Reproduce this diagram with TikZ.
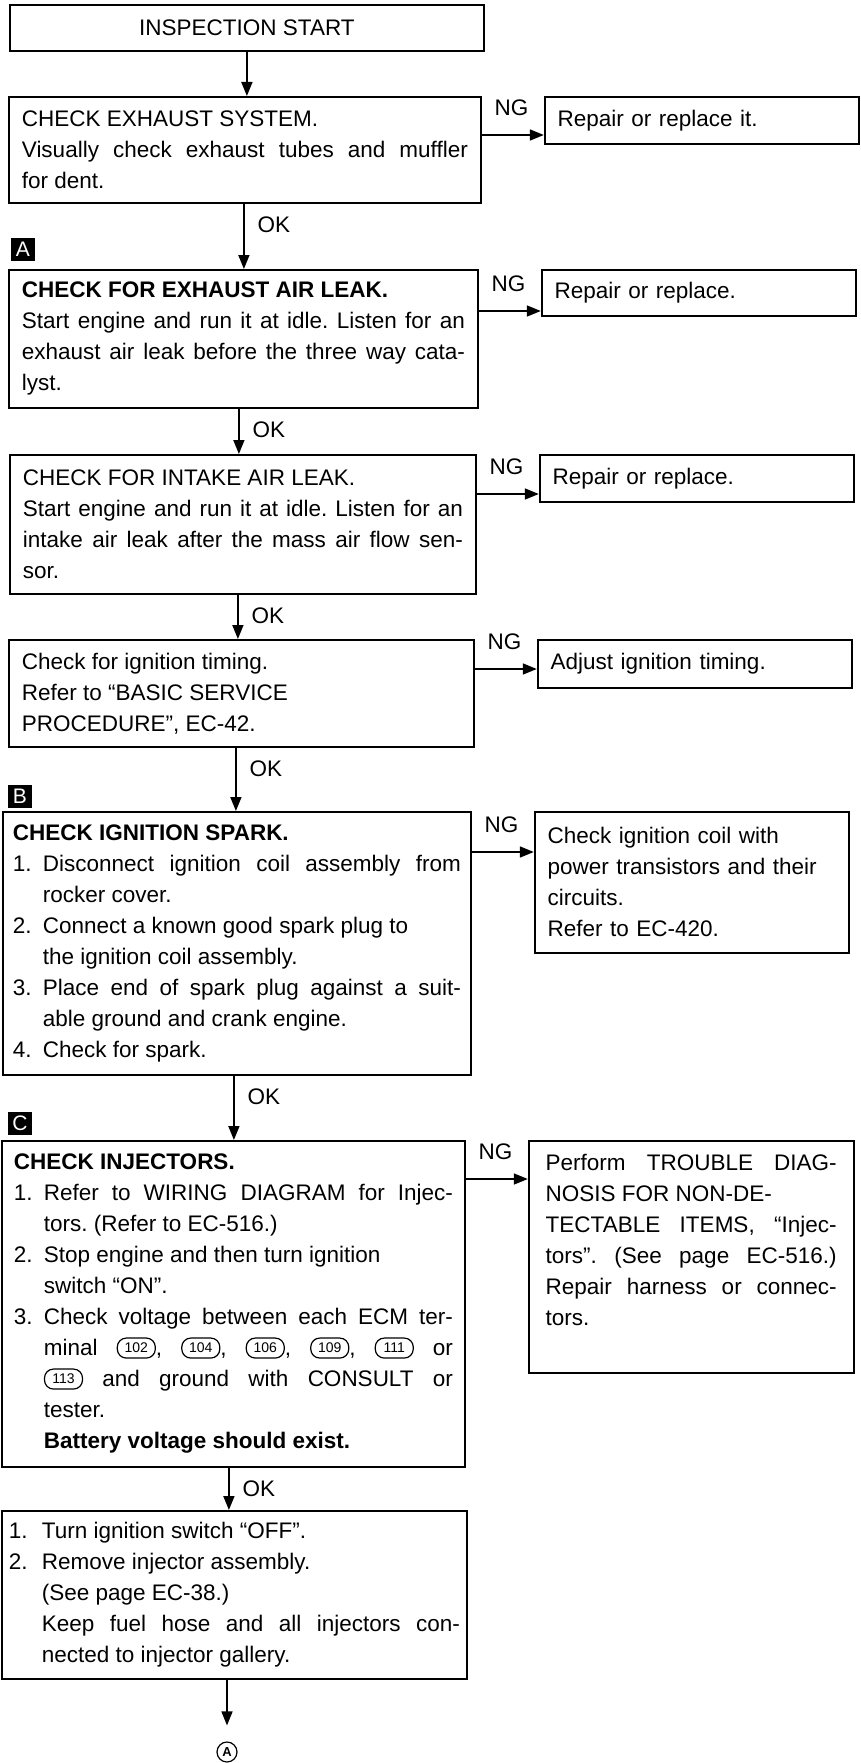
\documentclass[tikz,border=0pt]{standalone}
\usepackage{fontspec}
\setmainfont{Liberation Sans}
\usetikzlibrary{positioning, arrows.meta}

\newcommand{\bodyfont}{\fontsize{22.5pt}{31pt}\selectfont\frenchspacing}
\newcommand{\stepno}[2][30pt]{\hangindent=#1\hangafter=1\makebox[#1][l]{#2}\ignorespaces}
\newcommand{\ecmpin}[1]{\tikz[baseline={([yshift=-3pt]pin.base)}]\node[pinbox] (pin) {#1};}

\begin{document}
\begin{tikzpicture}[
    x=1pt, y=-1pt,
    node distance=62pt,
    >={Triangle[length=14pt, width=11pt]},
    stepbox/.style={
        draw,
        line width=1.8pt,
        anchor=north west,
        align=justify,
        inner xsep=13pt,
        inner ysep=2pt,
        font=\bodyfont
    },
    fixbox/.style={
        stepbox,
        align=left,
        text width=288pt
    },
    flow/.style={->, line width=1.6pt},
    okl/.style={anchor=north west, inner sep=0pt, xshift=13pt, yshift=-12pt, font=\bodyfont},
    ngl/.style={anchor=south west, inner sep=0pt, xshift=12pt, yshift=18pt, font=\bodyfont},
    tagbox/.style={fill=black, text=white, minimum width=24pt, minimum height=23pt,
        inner sep=0pt, font=\fontsize{21pt}{21pt}\selectfont},
    pinbox/.style={draw, line width=1.2pt, rounded corners=9pt, minimum width=38pt,
        minimum height=20pt, inner sep=0pt, font=\fontsize{14pt}{14pt}\selectfont}
]
\useasboundingbox (0,0) rectangle (861,1763);
\fill[white] (0,0) rectangle (861,1763);

%% ── Main column ──────────────────────────────────────────────────────────────
\node[draw, line width=1.8pt, anchor=north west, minimum width=474pt,
      minimum height=46pt, font=\bodyfont] (start) at (9,4) {INSPECTION START};

\node[stepbox, text width=446pt, minimum height=106pt] (b1) at (8,96)
    {CHECK EXHAUST SYSTEM.\par
     Visually check exhaust tubes and muffler\linebreak for dent.};

\node[stepbox, text width=443pt, minimum height=138pt] (b2) at (8,269)
    {\textbf{CHECK FOR EXHAUST AIR LEAK.}\par
     Start engine and run it at idle. Listen for an\linebreak
     exhaust air leak before the three way cata-\linebreak lyst.};

\node[stepbox, text width=440pt, minimum height=139pt] (b3) at (9,454)
    {CHECK FOR INTAKE AIR LEAK.\par
     Start engine and run it at idle. Listen for an\linebreak
     intake air leak after the mass air flow sen-\linebreak sor.};

\node[stepbox, text width=439pt, minimum height=107pt] (b4) at (8,639)
    {Check for ignition timing.\par
     Refer to “BASIC SERVICE\newline PROCEDURE”, EC-42.};

\node[stepbox, inner xsep=10pt, text width=448pt, minimum height=263pt] (b5) at (2,811)
    {\textbf{CHECK IGNITION SPARK.}\par
     \stepno{1.}Disconnect ignition coil assembly from\linebreak rocker cover.\par
     \stepno{2.}Connect a known good spark plug to\newline the ignition coil assembly.\par
     \stepno{3.}Place end of spark plug against a suit-\linebreak able ground and crank engine.\par
     \stepno{4.}Check for spark.\par};

\node[stepbox, inner xsep=12pt, text width=439pt, minimum height=326pt] (b6) at (1,1140)
    {\textbf{CHECK INJECTORS.}\par
     \stepno{1.}Refer to WIRING DIAGRAM for Injec-\linebreak tors. (Refer to EC-516.)\par
     \stepno{2.}Stop engine and then turn ignition\newline switch “ON”.\par
     \stepno{3.}Check voltage between each ECM ter-\linebreak
     minal \ecmpin{102}, \ecmpin{104}, \ecmpin{106}, \ecmpin{109}, \ecmpin{111} or\linebreak
     \ecmpin{113} and ground with CONSULT or\linebreak
     tester.\newline
     \textbf{Battery voltage should exist.}\par};

\node[stepbox, inner xsep=7pt, text width=451pt, minimum height=168pt] (b7) at (1,1510)
    {\stepno[33pt]{1.}Turn ignition switch “OFF”.\par
     \stepno[33pt]{2.}Remove injector assembly.\newline
     (See page EC-38.)\newline
     Keep fuel hose and all injectors con-\linebreak nected to injector gallery.\par};

\node[circle, draw, line width=1.2pt, minimum size=20pt, inner sep=0pt,
      font=\fontsize{13pt}{13pt}\selectfont\bfseries] (endA) at (227,1752) {A};

%% ── Section tags ─────────────────────────────────────────────────────────────
\node[tagbox] (tagA) at (23,249) {A};
\node[tagbox] (tagB) at (20,796) {B};
\node[tagbox] (tagC) at (20,1123) {C};

%% ── NG results ───────────────────────────────────────────────────────────────
\node[fixbox, right=of b1.north east, anchor=north west, minimum height=47pt] (r1)
    {Repair or replace it.};
\node[fixbox, right=of b2.north east, anchor=north west, minimum height=46pt] (r2)
    {Repair or replace.};
\node[fixbox, right=of b3.north east, anchor=north west, minimum height=47pt] (r3)
    {Repair or replace.};
\node[fixbox, right=of b4.north east, anchor=north west, minimum height=48pt] (r4)
    {Adjust ignition timing.};
\node[fixbox, right=of b5.north east, anchor=north west, minimum height=141pt] (r5)
    {Check ignition coil with\\ power transistors and their\\ circuits.\\ Refer to EC-420.};
\node[fixbox, align=justify, text width=291pt, inner xsep=13pt, minimum width=325pt,
      right=of b6.north east, anchor=north west, minimum height=232pt] (r6)
    {Perform TROUBLE DIAG-\linebreak NOSIS FOR NON-DE-\newline
     TECTABLE ITEMS, “Injec-\linebreak tors”. (See page EC-516.)\linebreak
     Repair harness or connec-\linebreak tors.\rule[-34pt]{0pt}{34pt}};

%% ── OK connectors ────────────────────────────────────────────────────────────
\coordinate (ok1) at ([xshift=-1pt]b1.south);
\coordinate (ok2) at ([xshift=-4.5pt]b2.south);
\coordinate (ok3) at ([xshift=-5pt]b3.south);
\coordinate (ok4) at ([xshift=-5.5pt]b4.south);
\coordinate (ok5) at ([xshift=-3pt]b5.south);
\coordinate (ok6) at ([xshift=-4.5pt]b6.south);

\draw[flow] (start.south) -- (start.south |- b1.north);
\draw[flow] (ok1) node[okl] {OK} -- (ok1 |- b2.north);
\draw[flow] (ok2) node[okl] {OK} -- (ok2 |- b3.north);
\draw[flow] (ok3) node[okl] {OK} -- (ok3 |- b4.north);
\draw[flow] (ok4) node[okl] {OK} -- (ok4 |- b5.north);
\draw[flow] (ok5) node[okl] {OK} -- (ok5 |- b6.north);
\draw[flow] (ok6) node[okl] {OK} -- (ok6 |- b7.north);
\draw[flow, shorten >=16pt] (b7.south -| endA) -- (endA);

%% ── NG connectors ────────────────────────────────────────────────────────────
\coordinate (ng1) at ([yshift=-39pt]b1.north east);
\coordinate (ng2) at ([yshift=-42pt]b2.north east);
\coordinate (ng3) at ([yshift=-40pt]b3.north east);
\coordinate (ng4) at ([yshift=-30pt]b4.north east);
\coordinate (ng5) at ([yshift=-41pt]b5.north east);
\coordinate (ng6) at ([yshift=-39pt]b6.north east);

\draw[flow] (ng1) node[ngl] {NG} -- (ng1 -| r1.west);
\draw[flow] (ng2) node[ngl] {NG} -- (ng2 -| r2.west);
\draw[flow] (ng3) node[ngl] {NG} -- (ng3 -| r3.west);
\draw[flow] (ng4) node[ngl] {NG} -- (ng4 -| r4.west);
\draw[flow] (ng5) node[ngl] {NG} -- (ng5 -| r5.west);
\draw[flow] (ng6) node[ngl] {NG} -- (ng6 -| r6.west);

\end{tikzpicture}
\end{document}
